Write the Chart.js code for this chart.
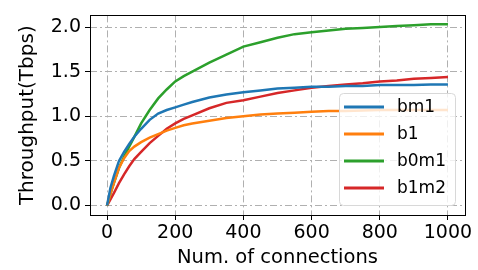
<!DOCTYPE html>
<html>
<head>
<meta charset="utf-8">
<script src="https://cdn.jsdelivr.net/npm/chart.js@4/dist/chart.umd.min.js"></script>
<style>
    html, body { margin: 0; padding: 0; background: #fff; }
    #wrap { width: 478px; height: 270px; }
</style>
</head>
<body>
<div id="wrap"><canvas id="chart" width="478" height="270"></canvas></div>
<script>
// connections sampled along the x axis
const connections = [0, 10, 20, 35, 50, 65, 80, 100, 125, 150, 175, 200, 225, 250, 300, 350, 400, 450, 500, 550, 600, 650, 700, 750, 800, 850, 900, 950, 1000];

// throughput in Tbps
const bm1 = [0, 0.20, 0.33, 0.50, 0.60, 0.69, 0.77, 0.86, 0.96, 1.03, 1.07, 1.10, 1.13, 1.16, 1.21, 1.245, 1.27, 1.29, 1.31, 1.32, 1.33, 1.33, 1.34, 1.34, 1.35, 1.35, 1.35, 1.355, 1.355];
const b1 = [0, 0.13, 0.25, 0.42, 0.53, 0.61, 0.66, 0.71, 0.76, 0.80, 0.84, 0.87, 0.90, 0.92, 0.95, 0.98, 1.00, 1.02, 1.03, 1.04, 1.05, 1.06, 1.06, 1.065, 1.07, 1.07, 1.07, 1.07, 1.07];
const b0m1 = [0, 0.13, 0.25, 0.42, 0.55, 0.66, 0.77, 0.92, 1.07, 1.20, 1.30, 1.39, 1.45, 1.50, 1.60, 1.69, 1.78, 1.83, 1.88, 1.92, 1.94, 1.96, 1.98, 1.99, 2.00, 2.01, 2.02, 2.03, 2.03];
const b1m2 = [0, 0.07, 0.14, 0.25, 0.35, 0.44, 0.52, 0.60, 0.70, 0.78, 0.86, 0.92, 0.97, 1.01, 1.09, 1.15, 1.18, 1.22, 1.26, 1.29, 1.32, 1.34, 1.355, 1.37, 1.39, 1.40, 1.42, 1.43, 1.44];

const seriesNames = ["bm1", "b1", "b0m1", "b1m2"];
const seriesValues = [bm1, b1, b0m1, b1m2];
const seriesColors = ["#1f77b4", "#ff7f0e", "#2ca02c", "#d62728"];

const xTicks = [0, 200, 400, 600, 800, 1000];
const yTicks = [0, 0.5, 1.0, 1.5, 2.0];

const FONT = "'DejaVu Sans', sans-serif";

const datasets = seriesNames.map((name, i) => ({
    label: name,
    data: connections.map((c, j) => ({ x: c, y: seriesValues[i][j] })),
    borderColor: seriesColors[i],
    backgroundColor: seriesColors[i],
    borderWidth: 2.5,
    pointRadius: 0,
    tension: 0,
}));

// black frame around the plot area
const framePlugin = {
    id: "frame",
    afterDatasetsDraw(chart) {
        const { ctx, chartArea: a } = chart;
        ctx.save();
        ctx.strokeStyle = "#000";
        ctx.lineWidth = 1;
        ctx.strokeRect(Math.round(a.left) + 0.5, Math.round(a.top) + 0.5, Math.round(a.right - a.left), Math.round(a.bottom - a.top));
        ctx.restore();
    }
};

// matplotlib-like legend at lower right, inside the plot
const legendPlugin = {
    id: "mplLegend",
    afterDraw(chart) {
        const { ctx, chartArea: a } = chart;
        const w = 116, h = 112;
        const x = a.right - 10 - w, y = a.bottom - 10 - h;
        ctx.save();
        ctx.beginPath();
        ctx.roundRect(x + 0.5, y + 0.5, w, h, 4);
        ctx.fillStyle = "rgba(255,255,255,0.8)";
        ctx.fill();
        ctx.strokeStyle = "#d8d8d8";
        ctx.lineWidth = 1;
        ctx.stroke();
        ctx.font = "17px " + FONT;
        ctx.textBaseline = "middle";
        chart.data.datasets.forEach((ds, i) => {
            const ly = y + 14 + i * 27;
            ctx.strokeStyle = ds.borderColor;
            ctx.lineWidth = 3;
            ctx.beginPath();
            ctx.moveTo(x + 5, ly);
            ctx.lineTo(x + 45, ly);
            ctx.stroke();
            ctx.fillStyle = "#000";
            ctx.fillText(ds.label, x + 58, ly + 1);
        });
        ctx.restore();
    }
};

const gridStyle = {
    color: "#b0b0b0",
    lineWidth: 1,
    drawTicks: true,
    tickLength: 5,
    tickColor: "#000",
    tickWidth: 1,
};

const config = {
    type: "line",
    data: { datasets: datasets },
    options: {
        responsive: false,
        animation: false,
        layout: { padding: { top: 5, right: 13, left: 0, bottom: 0 } },
        plugins: {
            legend: { display: false },
            tooltip: { enabled: false },
        },
        scales: {
            x: {
                type: "linear",
                min: -50,
                max: 1050,
                afterBuildTicks: (scale) => { scale.ticks = xTicks.map(v => ({ value: v })); },
                afterFit: (scale) => { scale.height = 55; },
                grid: gridStyle,
                border: { display: false, dash: [7, 3, 2, 3] },
                ticks: { color: "#000", font: { family: FONT, size: 19 }, padding: 2, maxRotation: 0, callback: (v) => String(v) },
                title: { display: true, text: "Num. of connections", color: "#000", font: { family: FONT, size: 19.5 }, padding: { top: 0, bottom: 0 } },
            },
            y: {
                type: "linear",
                min: -0.106,
                max: 2.13,
                afterBuildTicks: (scale) => { scale.ticks = yTicks.map(v => ({ value: v })); },
                afterFit: (scale) => { scale.width = 90; },
                grid: gridStyle,
                border: { display: false, dash: [7, 3, 2, 3] },
                ticks: { color: "#000", font: { family: FONT, size: 19 }, padding: 4, callback: (v) => v.toFixed(1) },
                title: { display: true, text: "Throughput(Tbps)", color: "#000", font: { family: FONT, size: 20 }, padding: { top: 16, bottom: 0 } },
            },
        },
    },
    plugins: [framePlugin, legendPlugin],
};

new Chart(document.getElementById("chart"), config);
</script>
</body>
</html>
